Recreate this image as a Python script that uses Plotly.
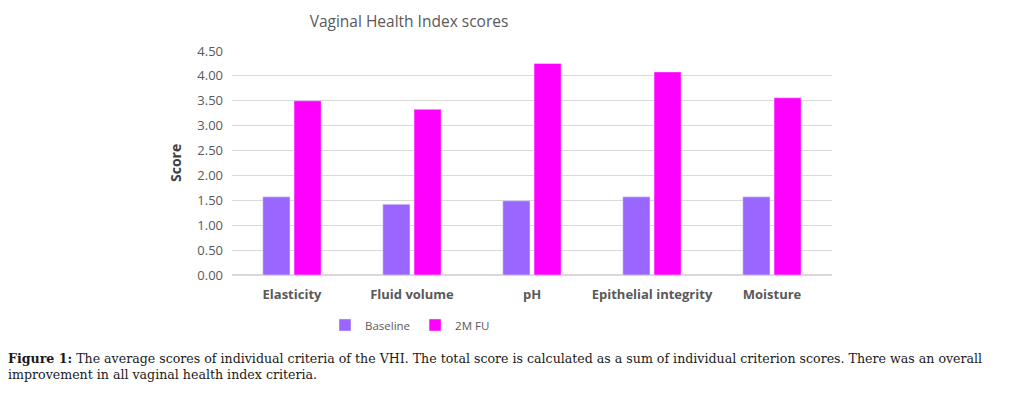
import plotly.graph_objects as go

categories = ["Elasticity", "Fluid volume", "pH", "Epithelial integrity", "Moisture"]
baseline = [1.57, 1.42, 1.49, 1.57, 1.57]
fu_2m = [3.50, 3.33, 4.25, 4.08, 3.56]
y_ticks = [0, 0.5, 1, 1.5, 2, 2.5, 3, 3.5, 4, 4.5]
y_tick_labels = ["0.00", "0.50", "1.00", "1.50", "2.00", "2.50", "3.00", "3.50", "4.00", "4.50"]

OFF = 8  # page body margin
W, H = 1011 - OFF, 401 - OFF
L, T = 232 - OFF, 51 - OFF
pw, ph = 600, 224
R, B = W - L - pw, H - T - ph

def px(xp):
    return (xp - OFF - L) / pw

def py(yp):
    return 1 - (yp - OFF - T) / ph

fig = go.Figure()
fig.add_trace(go.Bar(x=categories, y=baseline, name="Baseline", marker_color="#9966FF"))
fig.add_trace(go.Bar(x=categories, y=fu_2m, name="2M FU", marker_color="#FF00FF"))

fig.update_layout(
    width=W, height=H,
    margin=dict(l=L, r=R, t=T, b=B, pad=0),
    paper_bgcolor="white", plot_bgcolor="white",
    barmode="group", bargap=0.48, bargroupgap=0.13,
    font=dict(family="Open Sans, sans-serif", color="#595959"),
    title=dict(text="Vaginal Health Index scores", x=(409 - OFF) / W, xanchor="center",
               y=1 - (22 - OFF) / H, yanchor="middle", font=dict(size=15.5, color="#595959")),
    showlegend=True,
    legend=dict(orientation="h", x=px(410), xanchor="center",
                y=py(325), yanchor="middle",
                font=dict(size=11.5, color="#595959"), itemwidth=30,
                tracegroupgap=0),
    xaxis=dict(showgrid=False, showline=False, ticks="",
               tickfont=dict(size=13, color="#595959", family="Open Sans, sans-serif"),
               tickprefix="<b>", ticksuffix="</b>", ticklabelstandoff=10),
    yaxis=dict(range=[0, 4.5], tickvals=y_ticks, ticktext=y_tick_labels,
               showgrid=True, gridcolor="#D9D9D9", gridwidth=1, zeroline=True,
               zerolinecolor="#D9D9D9", showline=False, ticks="",
               tickfont=dict(size=13, color="#595959"), ticklabelstandoff=8),
)

fig.add_annotation(text="<b>Score</b>", xref="paper", yref="paper",
                   x=px(175), y=py(163), textangle=-90, showarrow=False,
                   font=dict(size=14, color="#404040"), xanchor="center", yanchor="middle")

caption = ("<b>Figure 1:</b> The average scores of individual criteria of the VHI. The total score is calculated as a sum of individual criterion scores. There was an overall"
           "<br>improvement in all vaginal health index criteria.")
fig.add_annotation(text=caption, xref="paper", yref="paper",
                   x=px(6), y=py(349), xanchor="left", yanchor="top",
                   align="left", showarrow=False,
                   font=dict(size=12.6, color="#1a1a1a", family="DejaVu Serif, serif"))

fig.write_html("out.html")
